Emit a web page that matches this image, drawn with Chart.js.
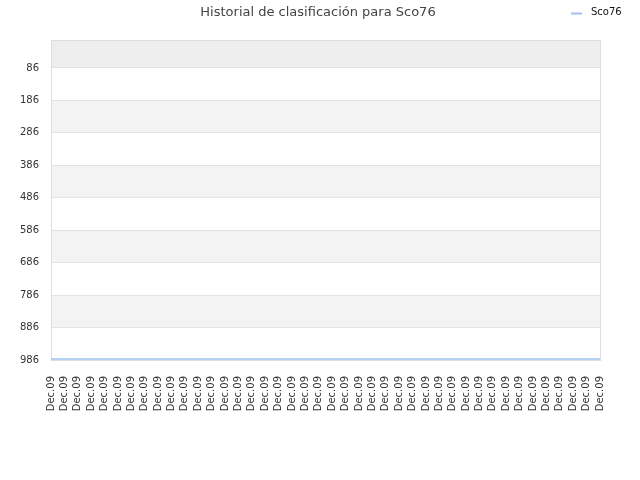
<!DOCTYPE html>
<html>
<head>
<meta charset="utf-8">
<style>
  html, body { margin: 0; padding: 0; background: #ffffff; }
  #wrap { width: 640px; height: 480px; }
</style>
<script src="https://cdn.jsdelivr.net/npm/chart.js@4/dist/chart.umd.min.js"></script>
</head>
<body>
<div id="wrap"><canvas id="c" width="640" height="480"></canvas></div>
<script>
const chartTitle = "Historial de clasificación para Sco76";
const seriesName = "Sco76";
const categories = ["Dec.09","Dec.09","Dec.09","Dec.09","Dec.09","Dec.09","Dec.09","Dec.09","Dec.09","Dec.09","Dec.09","Dec.09","Dec.09","Dec.09","Dec.09","Dec.09","Dec.09","Dec.09","Dec.09","Dec.09","Dec.09","Dec.09","Dec.09","Dec.09","Dec.09","Dec.09","Dec.09","Dec.09","Dec.09","Dec.09","Dec.09","Dec.09","Dec.09","Dec.09","Dec.09","Dec.09","Dec.09","Dec.09","Dec.09","Dec.09","Dec.09","Dec.09"];
const rankValues = [983,983,983,983,983,983,983,983,983,983,983,983,983,983,983,983,983,983,983,983,983,983,983,983,983,983,983,983,983,983,983,983,983,983,983,983,983,983,983,983,983,983];
const yTicks = [86,186,286,386,486,586,686,786,886,986];
const yMin = 0;
const yMax = 986;

const FONT = "'DejaVu Sans', sans-serif";

const bandsPlugin = {
  id: 'bands',
  beforeDraw(chart) {
    const ctx = chart.ctx;
    const a = chart.chartArea;
    const y = chart.scales.y;
    const edges = [yMin].concat(yTicks);
    ctx.save();
    for (let i = 0; i < edges.length - 1; i++) {
      const y1 = y.getPixelForValue(edges[i]);
      const y2 = y.getPixelForValue(edges[i + 1]);
      if (i % 2 === 0) {
        ctx.fillStyle = i === 0 ? '#eeeeee' : '#f3f3f3';
        ctx.fillRect(a.left, Math.min(y1, y2), a.right - a.left, Math.abs(y2 - y1));
      }
    }
    ctx.restore();
  },
  afterDraw(chart) {
    const ctx = chart.ctx;
    const a = chart.chartArea;
    ctx.save();
    ctx.strokeStyle = '#dddddd';
    ctx.lineWidth = 1;
    ctx.beginPath();
    ctx.moveTo(a.left, a.top + 0.5);
    ctx.lineTo(a.right + 0.5, a.top + 0.5);
    ctx.lineTo(a.right + 0.5, a.bottom);
    ctx.stroke();
    // title
    ctx.fillStyle = '#444444';
    ctx.font = "13px " + FONT;
    ctx.textAlign = 'center';
    ctx.textBaseline = 'middle';
    ctx.fillText(chartTitle, 318, 13);
    // legend
    const ds = chart.data.datasets[0];
    ctx.strokeStyle = ds.borderColor;
    ctx.lineWidth = 2;
    ctx.beginPath();
    ctx.moveTo(571, 13.5);
    ctx.lineTo(582, 13.5);
    ctx.stroke();
    ctx.fillStyle = '#111111';
    ctx.font = "10px " + FONT;
    ctx.textAlign = 'left';
    ctx.fillText(ds.label, 591, 12);
    ctx.restore();
  }
};

new Chart(document.getElementById('c'), {
  type: 'line',
  data: {
    labels: categories,
    datasets: [{
      label: seriesName,
      data: rankValues,
      borderColor: '#9cc3ee',
      borderWidth: 1.5,
      pointRadius: 0,
      fill: false,
      tension: 0
    }]
  },
  options: {
    responsive: false,
    animation: false,
    devicePixelRatio: 1,
    layout: { padding: { left: 20, right: 40, top: 40, bottom: 50 } },
    plugins: {
      legend: { display: false },
      title: { display: false },
      tooltip: { enabled: false }
    },
    scales: {
      x: {
        type: 'category',
        offset: false,
        grid: { display: false, drawTicks: false },
        border: { display: true, color: '#dddddd' },
        ticks: {
          autoSkip: false,
          minRotation: 90,
          maxRotation: 90,
          padding: 16,
          color: '#333333',
          font: { family: FONT, size: 10 }
        },
        afterFit(scale) { scale.height = 70; }
      },
      y: {
        reverse: true,
        min: yMin,
        max: yMax,
        afterBuildTicks(scale) { scale.ticks = yTicks.map(v => ({ value: v })); },
        grid: { color: '#e3e3e3', drawTicks: false },
        border: { display: true, color: '#dddddd' },
        ticks: {
          padding: 12,
          color: '#333333',
          font: { family: FONT, size: 10 }
        },
        afterFit(scale) { scale.width = 31; }
      }
    }
  },
  plugins: [bandsPlugin]
});
</script>
</body>
</html>
